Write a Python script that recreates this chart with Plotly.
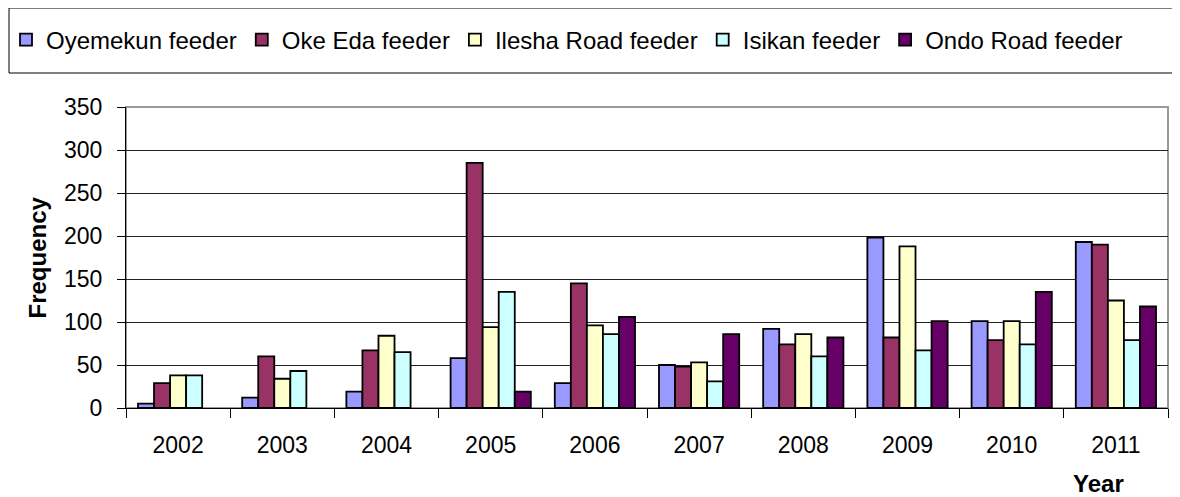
import plotly.graph_objects as go

years = ["2002", "2003", "2004", "2005", "2006", "2007", "2008", "2009", "2010", "2011"]
oyemekun = [5, 12, 19, 58, 29, 50, 92, 198, 101, 193]
oke_eda = [29, 60, 67, 285, 145, 48, 74, 82, 79, 190]
ilesha_road = [38, 34, 84, 94, 96, 53, 86, 188, 101, 125]
isikan = [38, 43, 65, 135, 86, 31, 60, 67, 74, 79]
ondo_road = [None, None, None, 19, 106, 86, 82, 101, 135, 118]

series = [
    ("Oyemekun feeder", oyemekun, "#9999FF"),
    ("Oke Eda feeder", oke_eda, "#993366"),
    ("Ilesha Road feeder", ilesha_road, "#FFFFCC"),
    ("Isikan feeder", isikan, "#CCFFFF"),
    ("Ondo Road feeder", ondo_road, "#660066"),
]

FONT = "Liberation Sans, Arial, sans-serif"

fig = go.Figure()
for name, vals, color in series:
    fig.add_trace(go.Bar(
        x=years, y=vals, name=name,
        marker=dict(color=color, line=dict(color="#000000", width=1.8)),
    ))

OFF = 8  # page body margin
W, H = 1180 - OFF, 497 - OFF
L, R, T, B = 126 - OFF, 12, 107 - OFF, 89
pw = W - L - R
ph = H - T - B


def px(xabs):
    return (xabs - OFF - L) / pw


def py(yabs):
    return (H - B - (yabs - OFF)) / ph


fig.update_layout(
    width=W, height=H,
    margin=dict(l=L, r=R, t=T, b=B, autoexpand=False),
    paper_bgcolor="white", plot_bgcolor="white",
    barmode="group", bargap=0.23, bargroupgap=0,
    font=dict(family=FONT, size=23, color="#000000"),
    showlegend=True,
    legend=dict(
        orientation="h", x=px(6), xanchor="left",
        y=py(40), yanchor="middle",
        font=dict(family=FONT, size=24, color="#000000"),
        bgcolor="rgba(0,0,0,0)", borderwidth=0,
        itemwidth=30, tracegroupgap=0, itemclick=False,
    ),
    xaxis=dict(
        type="category", showgrid=False, showline=True, linecolor="#000000", linewidth=1,
        ticks="outside", tickson="boundaries", ticklen=9, tickcolor="#000000", tickwidth=1,
        ticklabelstandoff=16, tickfont=dict(size=23),
        fixedrange=True,
    ),
    yaxis=dict(
        range=[0, 350], dtick=50, showgrid=True, gridcolor="#222222", gridwidth=1,
        showline=True, linecolor="#000000", linewidth=1, zeroline=False,
        ticks="outside", ticklen=8, tickcolor="#000000", tickwidth=1,
        ticklabelstandoff=10, tickfont=dict(size=23),
        fixedrange=True,
    ),
    shapes=[
        dict(type="rect", xref="paper", yref="paper", x0=0, x1=1, y0=0, y1=1,
             line=dict(color="#9a9a9a", width=2), fillcolor="rgba(0,0,0,0)", layer="below"),
        dict(type="rect", xref="paper", yref="paper",
             x0=px(9), x1=px(1178), y0=py(73), y1=py(8),
             line=dict(color="#000000", width=1), fillcolor="rgba(0,0,0,0)"),
    ],
    annotations=[
        dict(text="<b>Frequency</b>", xref="paper", yref="paper",
             x=px(37), y=0.5, xanchor="center", yanchor="middle",
             textangle=-90, showarrow=False, font=dict(family=FONT, size=24)),
        dict(text="<b>Year</b>", xref="paper", yref="paper",
             x=px(1098), y=py(483), xanchor="center", yanchor="middle",
             showarrow=False, font=dict(family=FONT, size=24)),
    ],
)

fig.write_html("out.html")
